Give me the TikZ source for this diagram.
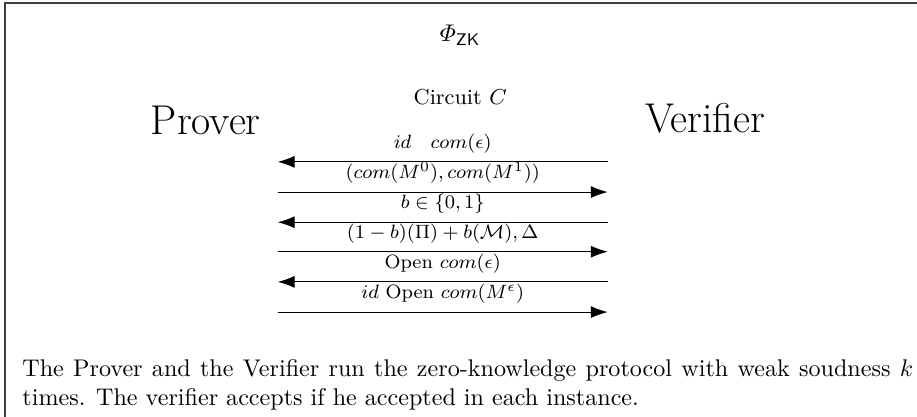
\documentclass[tikz,border=0pt]{standalone}
\usepackage{amsmath}
\usetikzlibrary{arrows.meta}

\tikzset{
  msg/.style={-{Latex[length=7pt,width=5pt]}},
  lab/.style={above,font=\footnotesize}
}

\begin{document}
\begin{tikzpicture}
\useasboundingbox (0,0) rectangle (13.37,-6.07);
\draw[line width=0.8pt,black!75] (0.07,-0.045) rectangle (15,-7);

\node (title) at (6.71,-0.51) {$\varPhi_{\mathsf{ZK}}$};
\node (circ) at (6.71,-1.41) {\small Circuit $C$};
\node (P) at (3.0,-1.75) {\LARGE Prover};
\node (V) at (10.28,-1.72) {\LARGE Verifier};

% message ends, prover side and verifier side
\coordinate (p1) at (4.05,-2.36); \coordinate (v1) at (8.86,-2.36);
\coordinate (p2) at (4.05,-2.80); \coordinate (v2) at (8.86,-2.80);
\coordinate (p3) at (4.05,-3.24); \coordinate (v3) at (8.86,-3.24);
\coordinate (p4) at (4.05,-3.67); \coordinate (v4) at (8.86,-3.67);
\coordinate (p5) at (4.05,-4.11); \coordinate (v5) at (8.86,-4.11);
\coordinate (p6) at (4.05,-4.55); \coordinate (v6) at (8.86,-4.55);

\draw[msg] (v1) -- (p1) node[midway,lab] {$id\quad com(\epsilon)$};
\draw[msg] (p2) -- (v2) node[midway,lab] {$(com(M^0), com(M^1))$};
\draw[msg] (v3) -- (p3) node[midway,lab] {$b\in\{0,1\}$};
\draw[msg] (p4) -- (v4) node[midway,lab] {$(1-b)(\Pi)+b(\mathcal{M}),\Delta$};
\draw[msg] (v5) -- (p5) node[midway,lab] {Open $com(\epsilon)$};
\draw[msg] (p6) -- (v6) node[midway,lab] {$id$ Open $com(M^\epsilon)$};

\node[anchor=north west,inner sep=0pt,text width=369.5pt,align=justify] (txt) at (0.32,-5.23)
  {The Prover and the Verifier run the zero-knowledge protocol with weak soudness $k$ times. The verifier accepts if he accepted in each instance.};
\end{tikzpicture}
\end{document}
